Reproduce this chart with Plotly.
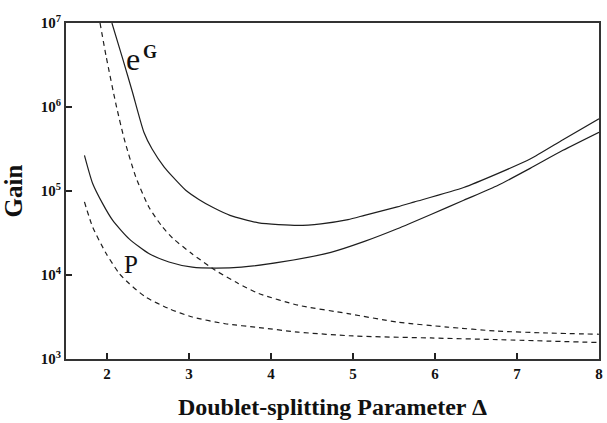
import plotly.graph_objects as go

# --- data (x = doublet-splitting parameter, y = gain) ---
eg_x = [2.06, 2.19, 2.31, 2.45, 2.55, 2.70, 2.80, 2.96, 3.12, 3.30, 3.50, 3.85,
        4.33, 4.61, 4.94, 5.14, 5.54, 5.75, 6.35, 6.77, 7.16, 7.56, 8.0]
eg_y = [1.0e7, 3.80e6, 1.51e6, 5.01e5, 3.16e5, 1.91e5, 1.48e5, 1.02e5, 7.94e4,
        6.31e4, 5.13e4, 4.17e4, 3.89e4, 4.07e4, 4.57e4, 5.13e4, 6.46e4, 7.41e4,
        1.10e5, 1.62e5, 2.40e5, 4.07e5, 7.24e5]

p_x = [1.725, 1.825, 1.947, 2.07, 2.27, 2.51, 2.755, 3.04, 3.32, 3.64, 4.13, 4.73,
       5.14, 5.54, 5.95, 6.35, 6.77, 7.16, 7.56, 8.0]
p_y = [2.66e5, 1.23e5, 7.08e4, 4.47e4, 2.69e4, 1.80e4, 1.43e4, 1.24e4, 1.21e4,
       1.24e4, 1.43e4, 1.86e4, 2.51e4, 3.55e4, 5.25e4, 7.76e4, 1.17e5, 1.86e5,
       3.05e5, 5.01e5]

eg_dash_x = [1.915, 1.99, 2.11, 2.21, 2.35, 2.51, 2.67, 2.80, 3.04, 3.32, 3.60,
             3.85, 4.33, 4.94, 5.54, 6.15, 6.76, 7.37, 8.0]
eg_dash_y = [1.0e7, 3.98e6, 1.07e6, 4.17e5, 1.48e5, 6.46e4, 3.80e4, 2.75e4, 1.78e4,
             1.14e4, 7.94e3, 6.03e3, 4.37e3, 3.47e3, 2.75e3, 2.40e3, 2.15e3,
             2.04e3, 1.97e3]

p_dash_x = [1.725, 1.825, 1.99, 2.15, 2.27, 2.47, 2.755, 3.04, 3.44, 3.85, 4.33,
            5.0, 5.95, 6.76, 8.0]
p_dash_y = [7.41e4, 3.72e4, 1.80e4, 1.04e4, 7.91e3, 5.47e3, 3.98e3, 3.16e3, 2.63e3,
            2.37e3, 2.09e3, 1.88e3, 1.78e3, 1.70e3, 1.57e3]

x_ticks = [2, 3, 4, 5, 6, 7, 8]
y_ticks = [1e3, 1e4, 1e5, 1e6, 1e7]
y_ticktext = ["10<sup>3</sup>", "10<sup>4</sup>", "10<sup>5</sup>",
              "10<sup>6</sup>", "10<sup>7</sup>"]

LINE = "#1e1e1e"
FONT = "Liberation Serif"

fig = go.Figure()
for xs, ys, dash in [(eg_x, eg_y, "solid"), (p_x, p_y, "solid"),
                     (eg_dash_x, eg_dash_y, "5px,4px"), (p_dash_x, p_dash_y, "5px,4px")]:
    fig.add_trace(go.Scatter(x=xs, y=ys, mode="lines",
                             line=dict(color=LINE, width=1.2, dash=dash,
                                       shape="spline", smoothing=0.6),
                             showlegend=False, hoverinfo="skip"))

fig.add_annotation(x=2.32, y=6.57, xref="x", yref="y", text="e", showarrow=False,
                   font=dict(family=FONT, size=32, color="#111"))
fig.add_annotation(x=2.52, y=6.66, xref="x", yref="y", text="<b>G</b>", showarrow=False,
                   font=dict(family=FONT, size=18, color="#111"))
fig.add_annotation(x=2.29, y=4.13, xref="x", yref="y", text="P", showarrow=False,
                   font=dict(family=FONT, size=25, color="#111"))

fig.update_layout(
    width=607, height=423,
    margin=dict(l=66, r=4, t=23, b=64),
    paper_bgcolor="white", plot_bgcolor="white",
    font=dict(family=FONT, color="#111"),
)
fig.update_xaxes(
    range=[1.5, 8.0], tickvals=x_ticks, ticktext=[str(v) for v in x_ticks],
    ticks="inside", ticklen=6, tickwidth=1.5, tickcolor="#222",
    showline=True, linecolor="#333", linewidth=2, mirror=True,
    showgrid=False, zeroline=False,
    tickfont=dict(family=FONT, size=15, weight="bold"),
    title=dict(text="Doublet-splitting Parameter Δ", standoff=17,
               font=dict(family=FONT, size=24, weight="bold")),
)
fig.update_yaxes(
    type="log", range=[3, 7], tickvals=y_ticks, ticktext=y_ticktext,
    ticks="inside", ticklen=6, tickwidth=2, tickcolor="#222",
    showline=True, linecolor="#333", linewidth=2, mirror=True,
    showgrid=False, zeroline=False,
    tickfont=dict(family=FONT, size=15, weight="bold"),
    title=dict(text="Gain", standoff=12,
               font=dict(family=FONT, size=25, weight="bold")),
)

fig.write_html("out.html")
